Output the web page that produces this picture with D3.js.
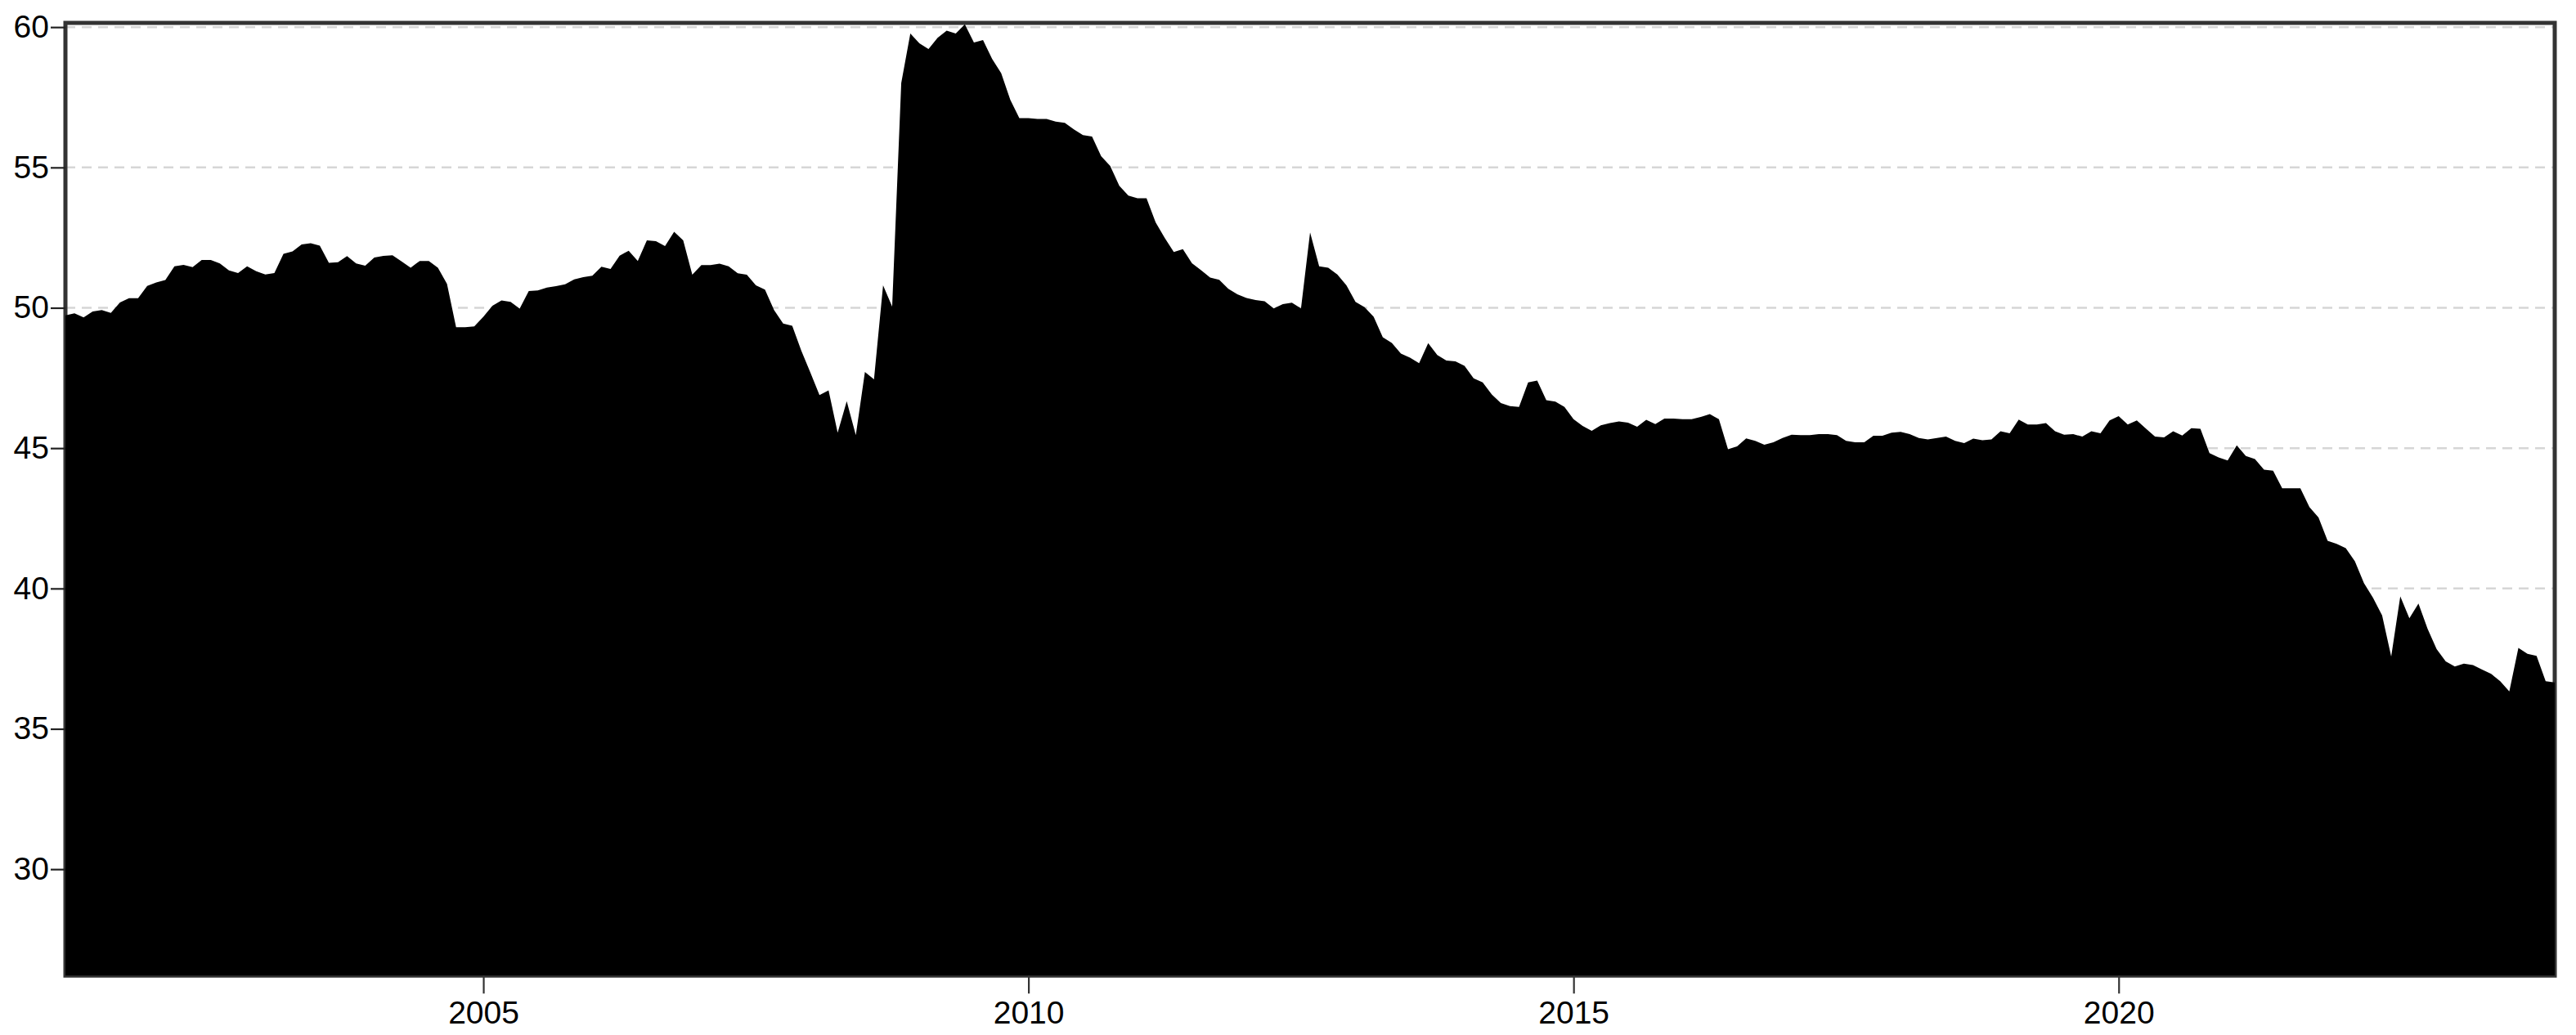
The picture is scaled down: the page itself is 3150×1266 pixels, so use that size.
<!DOCTYPE html>
<html>
<head>
<meta charset="utf-8">
<script src="https://cdn.jsdelivr.net/npm/d3@7"></script>
<style>
  html, body { margin: 0; padding: 0; background: #ffffff; }
  svg { display: block; }
</style>
</head>
<body>
<svg id="chart" width="3150" height="1266"></svg>
<script>
// ---- data (monthly observations, first one March 2001, last one January 2024) ----
const startYear = 2001;
const startMonth = 3;

const values = [
  49.73, 49.80, 49.66, 49.87, 49.92, 49.82, 50.19, 50.34, 50.34, 50.78,
  50.90, 50.99, 51.48, 51.53, 51.45, 51.70, 51.70, 51.58, 51.33, 51.24,
  51.48, 51.30, 51.19, 51.24, 51.92, 52.01, 52.26, 52.30, 52.21, 51.60,
  51.62, 51.84, 51.58, 51.50, 51.79, 51.85, 51.87, 51.65, 51.43, 51.67,
  51.67, 51.43, 50.85, 49.31, 49.31, 49.34, 49.68, 50.07, 50.26,
  50.21, 49.97, 50.60, 50.62, 50.72, 50.77, 50.84, 51.01, 51.09, 51.14,
  51.46, 51.38, 51.86, 52.03, 51.67, 52.40, 52.37, 52.20, 52.71, 52.40,
  51.18, 51.52, 51.52, 51.57, 51.48, 51.23, 51.18, 50.80, 50.65, 49.92,
  49.44, 49.36, 48.47, 47.69, 46.89, 47.06, 45.55, 46.67, 45.46, 47.71,
  47.45, 50.80, 50.04,
  58.01, 59.77, 59.42, 59.22, 59.62, 59.87, 59.77, 60.10, 59.45, 59.54,
  58.87, 58.36, 57.41, 56.76, 56.76, 56.73, 56.73, 56.63, 56.59, 56.36,
  56.15, 56.10, 55.40, 55.05, 54.35, 54.00, 53.90, 53.90, 53.04, 52.49,
  51.99, 52.09, 51.59, 51.34, 51.08, 51.00, 50.68, 50.48, 50.35, 50.28,
  50.23, 49.98, 50.13, 50.18, 49.98, 52.69,
  51.48, 51.43, 51.19, 50.80, 50.21, 50.02, 49.68, 48.95, 48.75, 48.37,
  48.22, 48.03, 48.74, 48.32, 48.12, 48.09, 47.93, 47.49, 47.34, 46.91,
  46.61, 46.50, 46.47, 47.34, 47.41, 46.71, 46.66, 46.47, 46.03, 45.79,
  45.62, 45.81, 45.89, 45.95, 45.91, 45.76, 46.01, 45.86, 46.05, 46.05,
  46.03, 46.03, 46.11, 46.21, 46.03, 44.96, 45.06, 45.35,
  45.26, 45.12, 45.21, 45.36, 45.48, 45.46, 45.46, 45.50, 45.50, 45.46,
  45.26, 45.21, 45.21, 45.44, 45.44, 45.55, 45.58, 45.50, 45.36, 45.31,
  45.36, 45.41, 45.26, 45.18, 45.34, 45.28, 45.31, 45.60, 45.53, 46.02,
  45.84, 45.84, 45.89, 45.60, 45.48, 45.50, 45.41, 45.60, 45.53, 45.99,
  46.14, 45.84, 45.99, 45.70, 45.41,
  45.38, 45.60, 45.45, 45.71, 45.69, 44.82, 44.67, 44.56, 45.10, 44.72,
  44.61, 44.23, 44.20, 43.57, 43.57, 43.57, 42.90, 42.53, 41.70, 41.59,
  41.44, 40.97, 40.19, 39.67, 39.04, 37.58, 39.72, 38.94, 39.46, 38.57,
  37.84, 37.40, 37.22, 37.32, 37.27, 37.11, 36.96, 36.70, 36.33, 37.88,
  37.67, 37.60, 36.70, 36.65
];

const xTickYears = [2005, 2010, 2015, 2020];
const yTickValues = [30, 35, 40, 45, 50, 55, 60];
const yDomain = [26.21, 60.15];

// time of each observation in decimal years
const times = values.map((v, i) => startYear + (startMonth - 1 + i) / 12);
const series = values.map((v, i) => ({ t: times[i], v: v }));

// ---- layout ----
const plot = { left: 80, right: 3124, top: 28, bottom: 1193.3 };
const fontFamily = "'Liberation Sans', Arial, Helvetica, sans-serif";
const fontSize = 39;

const svg = d3.select("#chart");

const x = d3.scaleLinear()
  .domain([times[0], times[times.length - 1]])
  .range([plot.left, plot.right]);

const y = d3.scaleLinear()
  .domain(yDomain)
  .range([plot.bottom, plot.top]);

// gridlines
svg.append("g")
  .selectAll("line")
  .data(yTickValues)
  .join("line")
  .attr("x1", plot.left)
  .attr("x2", plot.right)
  .attr("y1", d => y(d))
  .attr("y2", d => y(d))
  .attr("stroke", "#d6d6d6")
  .attr("stroke-width", 2.5)
  .attr("stroke-dasharray", "12,8");

// plot border
svg.append("rect")
  .attr("x", plot.left)
  .attr("y", plot.top)
  .attr("width", plot.right - plot.left)
  .attr("height", plot.bottom - plot.top)
  .attr("fill", "none")
  .attr("stroke", "#333333")
  .attr("stroke-width", 5);

// filled area
const area = d3.area()
  .x(d => x(d.t))
  .y0(y(yDomain[0]))
  .y1(d => y(d.v))
  .curve(d3.curveLinear);

svg.append("path")
  .datum(series)
  .attr("d", area)
  .attr("fill", "#000000");

// left axis
const yAxis = d3.axisLeft(y)
  .tickValues(yTickValues)
  .tickFormat(d3.format("d"))
  .tickSize(18)
  .tickPadding(2);

const gy = svg.append("g")
  .attr("transform", `translate(${plot.left},0)`)
  .call(yAxis);
gy.select(".domain").remove();
gy.selectAll(".tick line").attr("stroke", "#222222").attr("stroke-width", 2.2);
gy.selectAll(".tick text")
  .attr("fill", "#000000")
  .style("font-family", fontFamily)
  .style("font-size", fontSize + "px");

// bottom axis
const xAxis = d3.axisBottom(x)
  .tickValues(xTickYears)
  .tickFormat(d3.format("d"))
  .tickSize(22)
  .tickPadding(9);

const gx = svg.append("g")
  .attr("transform", `translate(0,${plot.bottom})`)
  .call(xAxis);
gx.select(".domain").remove();
gx.selectAll(".tick line").attr("stroke", "#333333").attr("stroke-width", 2.2);
gx.selectAll(".tick text")
  .attr("fill", "#000000")
  .style("font-family", fontFamily)
  .style("font-size", fontSize + "px");
</script>
</body>
</html>
